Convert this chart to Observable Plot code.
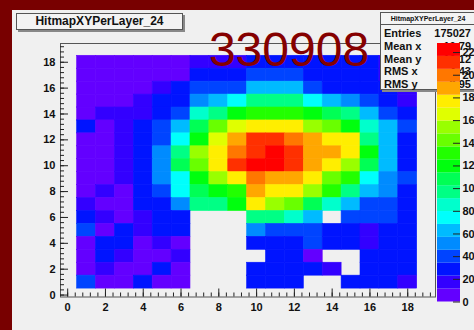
<!DOCTYPE html>
<html>
<head>
<meta charset="utf-8">
<script src="https://cdn.jsdelivr.net/npm/d3@7"></script>
<script src="https://cdn.jsdelivr.net/npm/@observablehq/plot@0.6"></script>
<style>
html,body{margin:0;padding:0;background:#780000;overflow:hidden;}
#root{position:relative;width:474px;height:330px;overflow:hidden;background:#780000;font-family:"Liberation Sans",Arial,sans-serif;}
#panel{position:absolute;left:12px;top:10px;width:462px;height:320px;background:#f0f0f0;}
.abs{position:absolute;}
#title{left:16px;top:13px;width:165px;height:15px;border:1px solid #555;background:#f3f3f3;box-shadow:2px 2px 0 #888;font-weight:bold;font-size:12px;line-height:15px;text-align:center;color:#111;}
#stats{left:380px;top:12px;width:110px;height:76px;border:1px solid #555;background:#f3f3f3;box-shadow:2px 2px 0 #888;color:#111;}
#stats .hdr{position:absolute;left:0;top:1px;width:94px;font-size:7px;font-weight:bold;text-align:center;line-height:10px;}
#stats .sep{position:absolute;left:0;top:11px;width:110px;height:0;border-top:1px solid #555;}
#stats .row{position:absolute;left:3px;width:87px;font-size:11px;font-weight:bold;line-height:12.8px;}
#stats .row span.v{position:absolute;right:0;}
#big{left:150px;top:26px;width:278px;text-align:center;font-size:48px;line-height:48px;color:#850000;}
</style>
</head>
<body>
<div id="root"><div id="panel"></div></div>
<script>
// ---- data ----
const xBins = [1,2,3,4,5,6,7,8,9,10,11,12,13,14,15,16,17,18];
const yBins = [18,17,16,15,14,13,12,11,10,9,8,7,6,5,4,3,2,1]; // rows listed top to bottom
const counts = [
  [6,5,7,6,5,6,17,18,17,28,29,30,28,29,27,28,17,16],
  [7,6,8,7,8,9,27,29,30,40,41,39,30,28,27,26,18,17],
  [8,7,9,10,16,26,38,40,42,62,64,61,39,30,28,27,25,17],
  [8,9,10,15,27,31,52,62,74,96,99,95,73,61,50,39,28,18],
  [9,16,15,17,29,40,85,97,120,130,133,129,119,108,96,60,38,26],
  [26,9,17,28,41,62,107,142,165,176,178,174,153,143,118,86,61,37],
  [10,9,18,29,42,74,121,166,188,210,212,199,186,176,173,97,62,28],
  [10,10,19,30,52,96,153,177,199,211,224,209,187,188,175,120,61,29],
  [9,10,18,31,50,108,142,176,210,220,225,212,187,177,154,108,60,27],
  [9,8,17,30,51,74,120,154,176,198,189,187,177,143,131,73,51,39],
  [8,17,10,29,40,75,108,119,131,188,176,178,154,130,97,62,50,28],
  [17,10,9,28,30,52,96,98,119,176,153,142,108,85,62,40,39,29],
  [27,18,10,17,28,30,null,null,null,97,95,86,62,null,40,39,38,30],
  [39,10,28,18,27,29,null,null,null,52,40,39,38,30,28,18,29,28],
  [9,27,28,10,17,10,null,null,null,27,29,30,38,28,29,18,30,27],
  [10,26,17,9,10,18,null,null,null,null,28,29,9,null,null,27,28,29],
  [9,17,10,9,27,10,null,null,null,28,27,29,30,18,null,28,27,29],
  [39,9,10,27,10,9,null,null,null,28,29,27,null,null,29,28,27,17]
];
const xTickLabels = [0,2,4,6,8,10,12,14,16,18];
const yTickLabels = [0,2,4,6,8,10,12,14,16,18];
const zTickLabels = [0,20,40,60,80,100,120,140,160,180,200,220];
const zMax = 228;
const statsLabels = ["Entries","Mean x","Mean y","RMS x","RMS y"];
const statsValues = ["175027","10.79","10.12","4.43","3.95"];
const histName = "HitmapXYPerLayer_24";
const runNumber = "330908";

// ---- palette (ROOT pretty palette, 20 contour levels) ----
const palette = ["#6300ff","#3300ff","#0014ff","#0044ff","#008bff","#00bbff","#00fffc","#00ffcc","#00ff85","#00ff55",
                 "#00ff0e","#22ff00","#69ff00","#99ff00","#e0ff00","#ffee00","#ffa700","#ff7700","#ff3000","#ff0000"];
const nLev = palette.length;
const edges = d3.range(nLev + 1).map(i => zMax * i / nLev);
const thresholds = edges.slice(1, -1);
const colorScale = {type: "threshold", domain: thresholds, range: palette};

const cells = [];
yBins.forEach((y, r) => xBins.forEach((x, c) => {
  const v = counts[r][c];
  if (v != null) cells.push({x, y, v});
}));

const font = '"Liberation Sans", Arial, sans-serif';
const frameW = 375, frameH = 253.5;
const xMinor = d3.range(0, 19.3, 0.4);
const yMinor = d3.range(0, 19.3, 0.4);

const main = Plot.plot({
  width: 462, height: 320,
  marginLeft: 48, marginRight: 39, marginTop: 33, marginBottom: 33.5,
  style: {background: "transparent", fontFamily: font, fontSize: "11px", fontWeight: "bold", color: "#111", overflow: "visible"},
  x: {domain: [-0.38, 19.47]},
  y: {domain: [-0.15, 19.45]},
  color: colorScale,
  marks: [
    Plot.rect(cells, {x1: d => d.x - 0.5, x2: d => d.x + 0.5, y1: d => d.y - 0.5, y2: d => d.y + 0.5, fill: "v", stroke: "v", strokeWidth: 0.6}),
    Plot.frame({stroke: "#555"}),
    Plot.tickX(xMinor, {x: d => d, insetTop: frameH - 4, stroke: "#222"}),
    Plot.tickX(xTickLabels, {x: d => d, insetTop: frameH - 8, stroke: "#222"}),
    Plot.tickY(yMinor, {y: d => d, insetRight: frameW - 4, stroke: "#222"}),
    Plot.tickY(yTickLabels, {y: d => d, insetRight: frameW - 8, stroke: "#222"}),
    Plot.axisX(xTickLabels, {tickSize: 0, tickPadding: 6, label: null}),
    Plot.axisY(yTickLabels, {tickSize: 0, tickPadding: 5, label: null})
  ]
});
main.style.position = "absolute";
main.style.left = "12px";
main.style.top = "10px";
document.getElementById("root").appendChild(main);

// big run number
const big = document.createElement("div");
big.className = "abs"; big.id = "big"; big.textContent = runNumber;
document.getElementById("root").appendChild(big);

// title box
const tb = document.createElement("div");
tb.className = "abs"; tb.id = "title"; tb.textContent = histName;
document.getElementById("root").appendChild(tb);

// stats box
const sb = document.createElement("div");
sb.className = "abs"; sb.id = "stats";
let html = `<div class="hdr">${histName}</div><div class="sep"></div>`;
statsLabels.forEach((l, i) => {
  html += `<div class="row" style="top:${14 + i * 12.8}px">${l}<span class="v">${statsValues[i]}</span></div>`;
});
sb.innerHTML = html;
document.getElementById("root").appendChild(sb);

// colour bar
const bands = d3.range(nLev).map(i => ({lo: edges[i], hi: edges[i + 1]}));
const cb = Plot.plot({
  width: 37, height: 320,
  marginLeft: 0, marginRight: 14, marginTop: 33, marginBottom: 28.5,
  style: {background: "transparent", fontFamily: font, fontSize: "11px", fontWeight: "bold", color: "#111", overflow: "visible"},
  x: {domain: [0, 1], axis: null},
  y: {domain: [0, zMax]},
  color: colorScale,
  marks: [
    Plot.rect(bands, {x1: 0, x2: 1, y1: "lo", y2: "hi", fill: d => (d.lo + d.hi) / 2}),
    Plot.tickY(zTickLabels, {y: d => d, insetLeft: 23 - 7, stroke: "#222"}),
    Plot.axisY(zTickLabels, {anchor: "right", tickSize: 0, tickPadding: 2, label: null})
  ]
});
cb.style.position = "absolute";
cb.style.left = "437px";
cb.style.top = "10px";
document.getElementById("root").appendChild(cb);
</script>
</body>
</html>
